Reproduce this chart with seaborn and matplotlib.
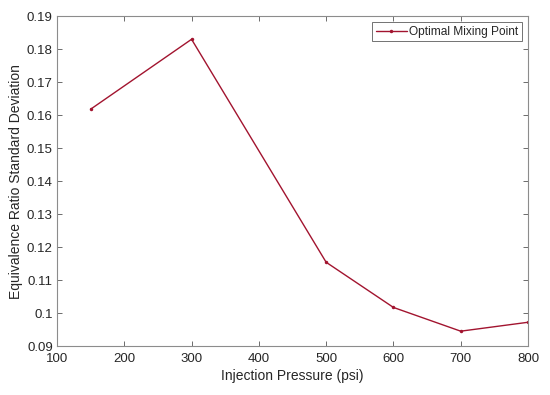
import matplotlib
matplotlib.use("Agg")
import matplotlib.pyplot as plt
import seaborn as sns
import pandas as pd

# Data
pressure = [150, 300, 500, 600, 700, 800]
std_dev = [0.1618, 0.1830, 0.1154, 0.1017, 0.0945, 0.0972]
x_ticks = [100, 200, 300, 400, 500, 600, 700, 800]
y_ticks = [0.09, 0.10, 0.11, 0.12, 0.13, 0.14, 0.15, 0.16, 0.17, 0.18, 0.19]
y_tick_labels = ["0.09", "0.1", "0.11", "0.12", "0.13", "0.14", "0.15", "0.16", "0.17", "0.18", "0.19"]

df = pd.DataFrame({"pressure": pressure, "std": std_dev})

sns.set_style("white")
plt.rcParams["font.family"] = ["Liberation Sans", "DejaVu Sans"]

fig = plt.figure(figsize=(5.5, 3.95), dpi=100)
ax = fig.add_axes([0.1036, 0.124, 0.8564, 0.835])

sns.lineplot(data=df, x="pressure", y="std", ax=ax, color="#A2142F",
             marker="o", markersize=2.5, markeredgewidth=0, linewidth=1.0,
             label="Optimal Mixing Point")

ax.set_xlim(100, 800)
ax.set_ylim(0.09, 0.19)
ax.set_xticks(x_ticks)
ax.set_yticks(y_ticks)
ax.set_yticklabels(y_tick_labels)
ax.tick_params(direction="in", length=3.5, width=0.6, color="#555555",
               labelsize=9.5, labelcolor="#262626", top=True, right=True,
               bottom=True, left=True, pad=3)
ax.tick_params(axis="x", pad=5)
for s in ax.spines.values():
    s.set_color("#8c8c8c")
    s.set_linewidth(0.8)

ax.set_xlabel("Injection Pressure (psi)", fontsize=10, color="#262626", labelpad=3)
ax.set_ylabel("Equivalence Ratio Standard Deviation", fontsize=10, color="#262626", labelpad=3)

leg = ax.legend(loc="upper right", fontsize=8.6, frameon=True, fancybox=False,
                handlelength=2.6, borderpad=0.3, handletextpad=0.2,
                borderaxespad=0.5)
leg.get_frame().set_edgecolor("#333333")
leg.get_frame().set_linewidth(0.6)

fig.savefig("out.png", dpi=100)
